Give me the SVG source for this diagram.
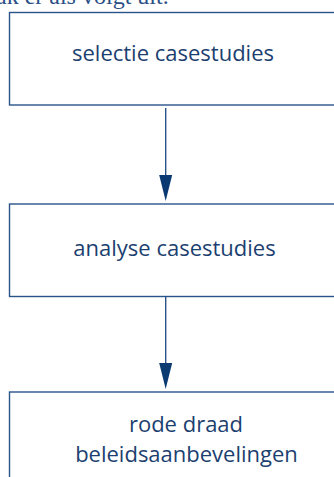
<svg xmlns="http://www.w3.org/2000/svg" width="334" height="477" viewBox="0 0 334 477">
<defs>
<style>
.box{fill:#fff;stroke:#2a5489;stroke-width:1.4}
.lbl{font-family:"Open Sans","DejaVu Sans",sans-serif;font-size:22px;fill:#1c3f70;text-anchor:middle}
.conn line{stroke:#2a5489;stroke-width:1.4}
.head{fill:#0b3a72}
.intro{font-family:"Liberation Serif",serif;font-size:24px;fill:#2a4f85}
</style>
</defs>
<rect width="334" height="477" fill="#fff"/>
<text class="intro" x="-4" y="4">ak er als volgt uit.</text>
<g id="node1">
<rect class="box" x="9.5" y="12.5" width="330" height="92.5"/>
<text class="lbl" x="173" y="61">selectie casestudies</text>
</g>
<g id="node2">
<rect class="box" x="9.5" y="204" width="330" height="92.5"/>
<text class="lbl" x="174.5" y="256">analyse casestudies</text>
</g>
<g id="node3">
<rect class="box" x="9.5" y="392" width="330" height="100"/>
<text class="lbl" x="186" y="432">rode draad</text>
<text class="lbl" x="186.5" y="462">beleidsaanbevelingen</text>
</g>
<g id="connectors" class="conn">
<line x1="165.7" y1="108" x2="165.7" y2="180"/>
<polygon class="head" points="159.2,175 172.2,175 165.7,201"/>
<line x1="165.7" y1="296.5" x2="165.7" y2="368"/>
<polygon class="head" points="159.2,363 172.2,363 165.7,389"/>
</g>
</svg>
